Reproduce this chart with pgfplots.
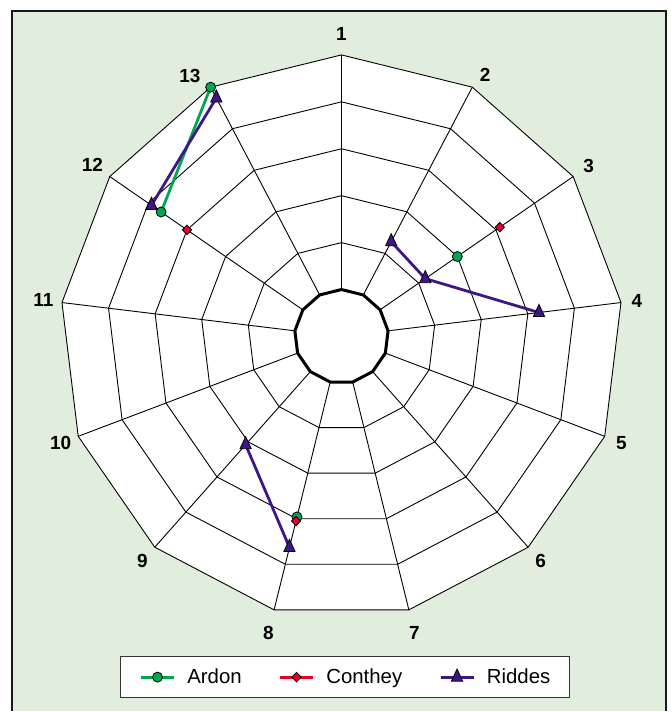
\documentclass[border=0pt]{standalone}
\usepackage{fontspec}
\setmainfont{Liberation Sans}
\usepackage{pgfplots}
\pgfplotsset{compat=1.18}
\definecolor{bggreen}{RGB}{226,238,221}
\definecolor{ardon}{RGB}{0,166,81}
\definecolor{conthey}{RGB}{232,0,40}
\definecolor{riddes}{RGB}{62,22,135}
\begin{document}
\begin{tikzpicture}
\begin{axis}[
  x=47pt, y=47pt,
  xmin=-7.2766, xmax=7.0426, ymin=-7.9787, ymax=7.1702,
  hide axis, clip=false,
  legend columns=3,
  legend style={at={(0.5134,0.0475)}, anchor=center, draw=black!80, line width=0.9pt, fill=white,
    font=\fontsize{20.4}{22}\selectfont, inner xsep=19pt, inner ysep=9.5pt,
    nodes={inner xsep=0pt, inner ysep=3pt},
    /tikz/every odd column/.append style={column sep=12pt},
    /tikz/every even column/.append style={column sep=37pt}},
  legend image code/.code={\draw[mark repeat=2,mark phase=2,#1] plot coordinates {(0pt,0pt) (16.5pt,0pt) (33pt,0pt)};},
]
% background
\fill[white] (-7.2766,-7.9787) rectangle (7.0426,7.1702);
\fill[bggreen] (-7.0213,-7.9787) rectangle (6.9149,6.9362);
\draw[line width=2.2pt, black!90] (-7.0213,-7.9787) -- (-7.0213,6.9362) -- (6.9149,6.9362) -- (6.9149,-7.9787);
% outer polygon
\addplot[forget plot, data cs=polar, fill=white, draw=black, line width=0.9pt] coordinates {
(90,6) (62.3077,6) (34.6154,6) (6.9231,6) (-20.7692,6) (-48.4615,6) (-76.1538,6)
(-103.8462,6) (-131.5385,6) (-159.2308,6) (-186.9231,6) (-214.6154,6) (-242.3077,6)} --cycle;
% rings
\pgfplotsinvokeforeach{2,3,4,5}{
\addplot[forget plot, data cs=polar, draw=black, line width=0.9pt] coordinates {
(90,#1) (62.3077,#1) (34.6154,#1) (6.9231,#1) (-20.7692,#1) (-48.4615,#1) (-76.1538,#1)
(-103.8462,#1) (-131.5385,#1) (-159.2308,#1) (-186.9231,#1) (-214.6154,#1) (-242.3077,#1)} --cycle;
}
% spokes
\pgfplotsinvokeforeach{90,62.3077,34.6154,6.9231,-20.7692,-48.4615,-76.1538,-103.8462,-131.5385,-159.2308,-186.9231,-214.6154,-242.3077}{
\addplot[forget plot, data cs=polar, draw=black, line width=0.9pt] coordinates {(#1,1) (#1,6)};
}
% inner thick ring
\addplot[forget plot, data cs=polar, draw=black, line width=3pt, fill=white] coordinates {
(90,1) (62.3077,1) (34.6154,1) (6.9231,1) (-20.7692,1) (-48.4615,1) (-76.1538,1)
(-103.8462,1) (-131.5385,1) (-159.2308,1) (-186.9231,1) (-214.6154,1) (-242.3077,1)} --cycle;
% category labels
\addplot[forget plot, data cs=polar, draw=none, nodes near coords, point meta=explicit symbolic,
  every node near coord/.append style={anchor=center, font=\bfseries\fontsize{19}{19}\selectfont}]
  table[meta=lab] {
angle r lab
90 6.45 1
61.2 6.36 2
34.6154 6.4 3
6.9231 6.34 4
-20.7692 6.38 5
-48.4615 6.4 6
-76.1538 6.5 7
-103.8462 6.5 8
-131.5385 6.4 9
-159.2308 6.4 10
-186.9231 6.4 11
-214.6154 6.45 12
-239.8 6.42 13
};
% data
\addplot[data cs=polar, color=ardon, line width=2.8pt, mark=*, mark size=5pt,
  mark options={solid, fill=ardon, draw=black, line width=0.8pt}, empty line=jump] table {
angle r
-242.3077 6.00
-214.6154 4.67

34.6154 3.00

-103.8462 3.96
};
\addlegendentry{Ardon}
\addplot[data cs=polar, color=conthey, line width=2.8pt, mark=diamond*, mark size=4.8pt,
  mark options={solid, fill=conthey, draw=black, line width=0.8pt, xscale=1.27}, empty line=jump] table {
angle r
-214.6154 4.00

34.6154 4.10

-103.8462 4.05
};
\addlegendentry{Conthey}
\addplot[data cs=polar, color=riddes, line width=2.8pt, mark=triangle*, mark size=6.5pt,
  mark options={solid, fill=riddes, draw=black, line width=0.8pt, yscale=1.25}, empty line=jump] table {
angle r
-214.6154 4.92
-242.3077 5.74

62.3077 2.28
34.6154 2.17
6.9231 4.24

-103.8462 4.63
-131.5385 3.08
};
\addlegendentry{Riddes}
\end{axis}
\end{tikzpicture}
\end{document}
